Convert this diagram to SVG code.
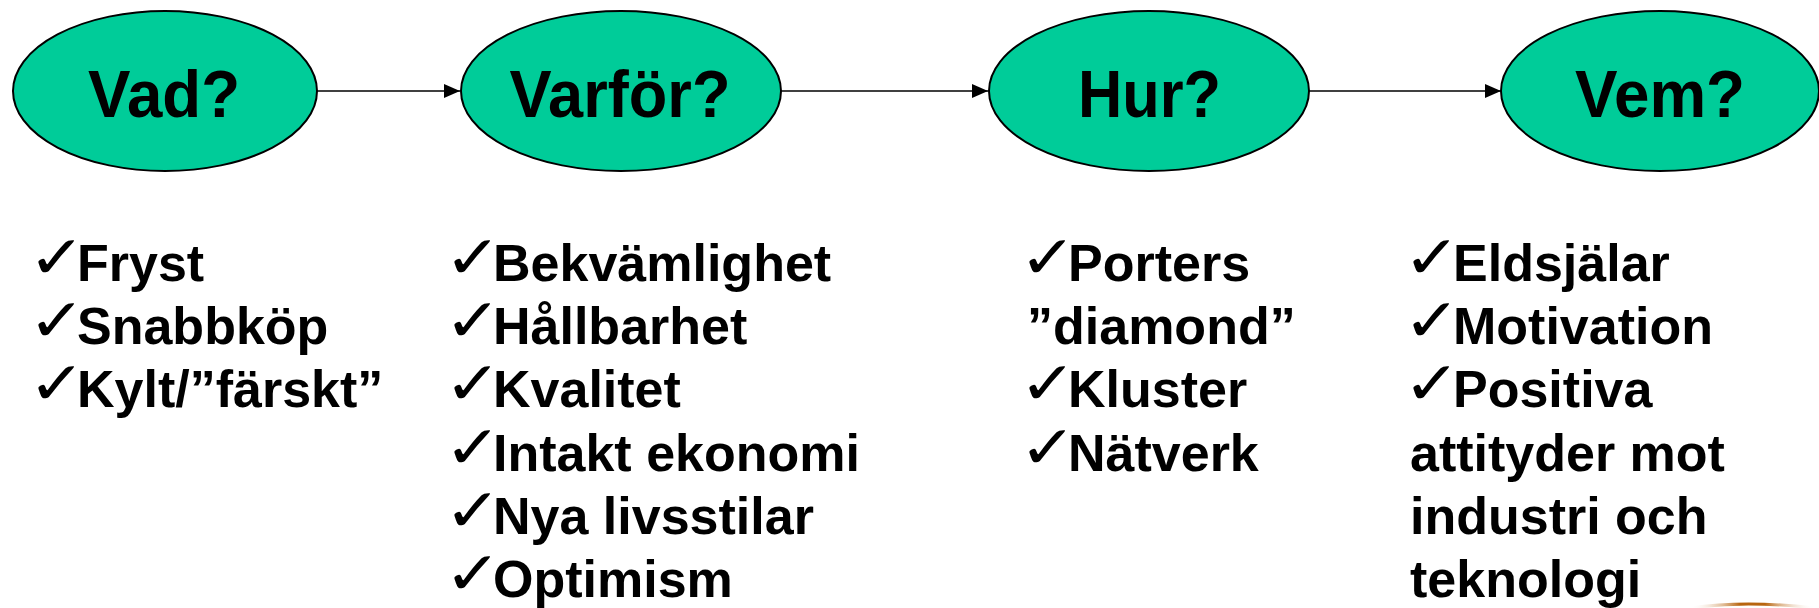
<svg xmlns="http://www.w3.org/2000/svg" width="1819" height="608" viewBox="0 0 1819 608">
<style>
.node ellipse{fill:#00CC99;stroke:#000;stroke-width:2}
.lbl{font-family:"Liberation Sans",Arial,sans-serif;font-weight:bold;font-size:66px;fill:#000;text-anchor:middle}
.li{font-family:"Liberation Sans",Arial,sans-serif;font-weight:bold;font-size:52px;fill:#000}
.ck{font-family:"DejaVu Sans",sans-serif;font-size:60px;fill:#000}
.conn line{stroke:#000;stroke-width:1.5}
</style>
<defs>
<marker id="ah" markerWidth="16" markerHeight="14" refX="16" refY="7" orient="auto" markerUnits="userSpaceOnUse">
<path d="M0,0 L16,7 L0,14 Z" fill="#000"/>
</marker>
<linearGradient id="brown" x1="0" y1="0" x2="1" y2="0">
<stop offset="0" stop-color="#fff" stop-opacity="0"/>
<stop offset="0.4" stop-color="#B8650F"/>
<stop offset="0.6" stop-color="#B8650F"/>
<stop offset="1" stop-color="#fff" stop-opacity="0"/>
</linearGradient>
</defs>
<rect width="1819" height="608" fill="#fff"/>
<g id="connectors" class="conn">
<line x1="317" y1="91" x2="460" y2="91" marker-end="url(#ah)"/>
<line x1="781" y1="91" x2="988" y2="91" marker-end="url(#ah)"/>
<line x1="1292" y1="91" x2="1501" y2="91" marker-end="url(#ah)"/>
</g>
<g id="node-vad" class="node">
<ellipse cx="165" cy="91" rx="152" ry="80"/>
<text class="lbl" x="164" y="117" textLength="152" lengthAdjust="spacingAndGlyphs">Vad?</text>
</g>
<g id="node-varfor" class="node">
<ellipse cx="621" cy="91" rx="160" ry="80"/>
<text class="lbl" x="620" y="117" textLength="221" lengthAdjust="spacingAndGlyphs">Varför?</text>
</g>
<g id="node-hur" class="node">
<ellipse cx="1149" cy="91" rx="160" ry="80"/>
<text class="lbl" x="1149.5" y="117" textLength="143" lengthAdjust="spacingAndGlyphs">Hur?</text>
</g>
<g id="node-vem" class="node">
<ellipse cx="1660" cy="91" rx="159" ry="80"/>
<text class="lbl" x="1660" y="117" textLength="170" lengthAdjust="spacingAndGlyphs">Vem?</text>
</g>
<g id="list-vad">
<text class="ck" transform="translate(28,278) scale(1.15,1)">✓</text><text class="li" x="77" y="281">Fryst</text>
<text class="ck" transform="translate(28,341) scale(1.15,1)">✓</text><text class="li" x="77" y="344">Snabbköp</text>
<text class="ck" transform="translate(28,404) scale(1.15,1)">✓</text><text class="li" x="77" y="407">Kylt/”färskt”</text>
</g>
<g id="list-varfor">
<text class="ck" transform="translate(444,278) scale(1.15,1)">✓</text><text class="li" x="493" y="281">Bekvämlighet</text>
<text class="ck" transform="translate(444,341) scale(1.15,1)">✓</text><text class="li" x="493" y="344">Hållbarhet</text>
<text class="ck" transform="translate(444,404) scale(1.15,1)">✓</text><text class="li" x="493" y="407">Kvalitet</text>
<text class="ck" transform="translate(444,468) scale(1.15,1)">✓</text><text class="li" x="493" y="471">Intakt ekonomi</text>
<text class="ck" transform="translate(444,531) scale(1.15,1)">✓</text><text class="li" x="493" y="534">Nya livsstilar</text>
<text class="ck" transform="translate(444,594) scale(1.15,1)">✓</text><text class="li" x="493" y="597">Optimism</text>
</g>
<g id="list-hur">
<text class="ck" transform="translate(1019,278) scale(1.15,1)">✓</text><text class="li" x="1068" y="281">Porters</text>
<text class="li" x="1027" y="344">”diamond”</text>
<text class="ck" transform="translate(1019,404) scale(1.15,1)">✓</text><text class="li" x="1068" y="407">Kluster</text>
<text class="ck" transform="translate(1019,468) scale(1.15,1)">✓</text><text class="li" x="1068" y="471">Nätverk</text>
</g>
<g id="list-vem">
<text class="ck" transform="translate(1403,278) scale(1.15,1)">✓</text><text class="li" x="1453" y="281">Eldsjälar</text>
<text class="ck" transform="translate(1403,341) scale(1.15,1)">✓</text><text class="li" x="1453" y="344">Motivation</text>
<text class="ck" transform="translate(1403,404) scale(1.15,1)">✓</text><text class="li" x="1453" y="407">Positiva</text>
<text class="li" x="1410" y="471">attityder mot</text>
<text class="li" x="1410" y="534">industri och</text>
<text class="li" x="1410" y="597">teknologi</text>
</g>
<path d="M1690,608 Q1745,600 1815,608" fill="none" stroke="url(#brown)" stroke-width="3"/>
</svg>
